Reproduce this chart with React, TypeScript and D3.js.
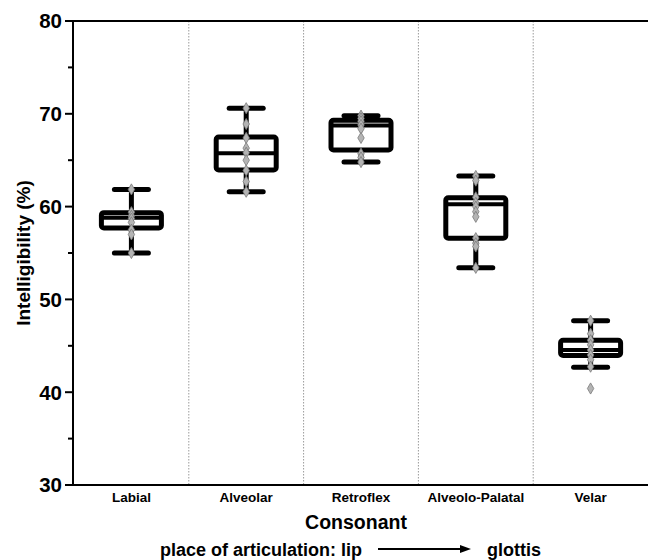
import React from "react";
import * as d3 from "d3";

const categories = ["Labial", "Alveolar", "Retroflex", "Alveolo-Palatal", "Velar"];
const whiskerHigh = [61.85, 70.6, 69.8, 63.3, 47.7];
const q3 = [59.35, 67.5, 69.3, 60.95, 45.6];
const medians = [58.8, 65.75, 68.75, 60.25, 44.55];
const q1 = [57.7, 63.95, 66.1, 56.6, 43.95];
const whiskerLow = [55.0, 61.6, 64.8, 53.4, 42.7];
const labialPts = [61.85, 59.4, 59.0, 58.7, 58.3, 57.5, 57.0, 55.0];
const alveolarPts = [70.6, 68.9, 67.4, 66.3, 65.8, 65.0, 63.9, 62.7, 61.6];
const retroflexPts = [69.8, 69.5, 69.2, 68.8, 68.4, 67.4, 65.7, 65.3, 64.8];
const alveoloPalatalPts = [63.3, 62.8, 61.0, 60.4, 60.0, 59.45, 58.9, 56.6, 56.05, 55.7, 53.4];
const velarPts = [47.7, 46.3, 45.6, 45.1, 44.55, 44.0, 43.5, 42.75, 40.4];
const points = [labialPts, alveolarPts, retroflexPts, alveoloPalatalPts, velarPts];
const majorTicks = [30, 40, 50, 60, 70, 80];
const minorTicks = [35, 45, 55, 65, 75];

const W = 648;
const H = 560;
const left = 74;
const right = 648;
const top = 21;
const bottom = 485;
const FONT = "'Liberation Sans', Arial, Helvetica, sans-serif";

export default function App() {
  const x = d3.scaleBand<string>().domain(categories).range([left, right]).padding(0);
  const y = d3.scaleLinear().domain([30, 80]).range([bottom, top]);
  const boxW = 60;
  const capW = 34;
  const diamond = d3.symbol().type(d3.symbolDiamond).size(36)() as string;
  const bw = x.bandwidth();

  return (
    <svg
      width={W}
      height={H}
      style={{ position: "absolute", left: 0, top: 0, background: "#fff" }}
      fontFamily={FONT}
    >
      <rect x={0} y={0} width={W} height={H} fill="#fff" />
      {categories.slice(1).map((c) => (
        <line
          key={"d" + c}
          x1={x(c)!}
          x2={x(c)!}
          y1={top}
          y2={bottom}
          stroke="#9a9a9a"
          strokeWidth={1}
          strokeDasharray="1.5,1.5"
        />
      ))}
      {categories.map((c, i) => {
        const cx = x(c)! + bw / 2;
        return (
          <g key={c}>
            <line x1={cx} x2={cx} y1={y(whiskerHigh[i])} y2={y(q3[i])} stroke="#000" strokeWidth={5} />
            <line x1={cx} x2={cx} y1={y(q1[i])} y2={y(whiskerLow[i])} stroke="#000" strokeWidth={5} />
            <line
              x1={cx - capW / 2}
              x2={cx + capW / 2}
              y1={y(whiskerHigh[i])}
              y2={y(whiskerHigh[i])}
              stroke="#000"
              strokeWidth={5}
              strokeLinecap="round"
            />
            <line
              x1={cx - capW / 2}
              x2={cx + capW / 2}
              y1={y(whiskerLow[i])}
              y2={y(whiskerLow[i])}
              stroke="#000"
              strokeWidth={5}
              strokeLinecap="round"
            />
            <rect
              x={cx - boxW / 2}
              y={y(q3[i])}
              width={boxW}
              height={y(q1[i]) - y(q3[i])}
              fill="none"
              stroke="#000"
              strokeWidth={5}
              rx={2.5}
            />
            <line
              x1={cx - boxW / 2}
              x2={cx + boxW / 2}
              y1={y(medians[i])}
              y2={y(medians[i])}
              stroke="#000"
              strokeWidth={4}
            />
            {points[i].map((v, j) => (
              <path
                key={j}
                d={diamond}
                transform={`translate(${cx},${y(v)})`}
                fill="#b4b4b4"
                stroke="#7a7a7a"
                strokeWidth={0.8}
              />
            ))}
          </g>
        );
      })}
      <line x1={left - 1} x2={left - 1} y1={top} y2={bottom} stroke="#000" strokeWidth={2} />
      <line x1={left - 9} x2={right} y1={top} y2={top} stroke="#000" strokeWidth={2} />
      <line x1={left - 9} x2={right} y1={bottom} y2={bottom} stroke="#000" strokeWidth={2} />
      {majorTicks.map((t) => (
        <g key={"t" + t}>
          <line x1={left - 9} x2={left - 1} y1={y(t)} y2={y(t)} stroke="#000" strokeWidth={2} />
          <text
            x={left - 12}
            y={y(t)}
            dy="0.36em"
            textAnchor="end"
            fontSize={20.5}
            fontWeight="bold"
          >
            {t}
          </text>
        </g>
      ))}
      {minorTicks.map((t) => (
        <line key={"m" + t} x1={left - 6} x2={left - 1} y1={y(t)} y2={y(t)} stroke="#000" strokeWidth={2} />
      ))}
      {categories.map((c) => (
        <text
          key={"l" + c}
          x={x(c)! + bw / 2}
          y={502}
          textAnchor="middle"
          fontSize={13.5}
          fontWeight="bold"
        >
          {c}
        </text>
      ))}
      <text
        transform={`translate(30,${(top + bottom) / 2}) rotate(-90)`}
        textAnchor="middle"
        fontSize={19}
        fontWeight="bold"
      >
        Intelligibility (%)
      </text>
      <text x={356} y={529} textAnchor="middle" fontSize={19.5} fontWeight="bold">
        Consonant
      </text>
      <text x={362} y={556} textAnchor="end" fontSize={18} fontWeight="bold">
        place of articulation: lip
      </text>
      <line x1={378} x2={462} y1={549} y2={549} stroke="#000" strokeWidth={2} />
      <path d="M460,545 L471,549 L460,553 Z" fill="#000" />
      <text x={487} y={556} textAnchor="start" fontSize={18} fontWeight="bold">
        glottis
      </text>
    </svg>
  );
}
